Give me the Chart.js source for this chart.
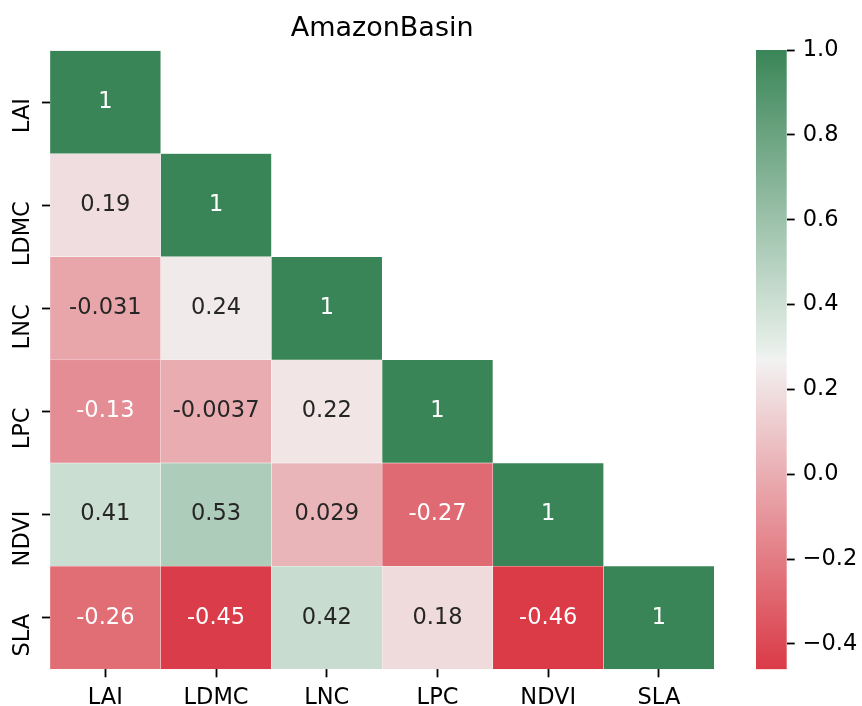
<!DOCTYPE html>
<html>
<head>
<meta charset="utf-8">
<script src="https://cdn.jsdelivr.net/npm/chart.js@4.4.1/dist/chart.umd.min.js"></script>
<style>
  html, body { margin: 0; padding: 0; background: #ffffff; }
  #wrap { position: relative; width: 862px; height: 706px; }
  #wrap canvas { position: absolute; left: 0; top: 0; }
</style>
</head>
<body>
<div id="wrap">
  <canvas id="heat" width="862" height="706"></canvas>
  <canvas id="cbar" width="862" height="706"></canvas>
</div>
<script>
const chartTitle = 'AmazonBasin';
const variables = ['LAI', 'LDMC', 'LNC', 'LPC', 'NDVI', 'SLA'];

// Lower triangle of the correlation matrix, one row per variable
const rowLAI  = [1];
const rowLDMC = [0.19, 1];
const rowLNC  = [-0.031, 0.24, 1];
const rowLPC  = [-0.13, -0.0037, 0.22, 1];
const rowNDVI = [0.41, 0.53, 0.029, -0.27, 1];
const rowSLA  = [-0.26, -0.45, 0.42, 0.18, -0.46, 1];

const colorbarTicks = [-0.4, -0.2, 0.0, 0.2, 0.4, 0.6, 0.8, 1.0];

const rows = [rowLAI, rowLDMC, rowLNC, rowLPC, rowNDVI, rowSLA];
const vmin = Math.min(...rows.flat());
const vmax = 1;

// ---- HUSL (HSLuv) to sRGB, used to build the red/green diverging colormap ----
const M = [
  [3.240969941904521, -1.537383177570093, -0.498610760293],
  [-0.96924363628087, 1.87596750150772, 0.041555057407175],
  [0.055630079696993, -0.20397695888897, 1.056971514242878]
];
const refU = 0.19783000664283, refV = 0.46831999493879;
const kappa = 903.2962962, epsilon = 0.0088564516;

function getBounds(L) {
  const out = [];
  const sub1 = Math.pow(L + 16, 3) / 1560896;
  const sub2 = sub1 > epsilon ? sub1 : L / kappa;
  for (let c = 0; c < 3; c++) {
    const [m1, m2, m3] = M[c];
    for (let t = 0; t < 2; t++) {
      const top1 = (284517 * m1 - 94839 * m3) * sub2;
      const top2 = (838422 * m3 + 769860 * m2 + 731718 * m1) * L * sub2 - 769860 * t * L;
      const bottom = (632260 * m3 - 126452 * m2) * sub2 + 126452 * t;
      out.push([top1 / bottom, top2 / bottom]);
    }
  }
  return out;
}
function maxChroma(L, H) {
  const hr = H / 360 * 2 * Math.PI;
  let min = Infinity;
  for (const [slope, icpt] of getBounds(L)) {
    const len = icpt / (Math.sin(hr) - slope * Math.cos(hr));
    if (len >= 0) min = Math.min(min, len);
  }
  return min;
}
function husl(H, S, L) {
  const C = maxChroma(L, H) / 100 * S;
  const hr = H / 180 * Math.PI;
  const U = Math.cos(hr) * C, V = Math.sin(hr) * C;
  const varU = U / (13 * L) + refU;
  const varV = V / (13 * L) + refV;
  const Y = L > 8 ? Math.pow((L + 16) / 116, 3) : L / kappa;
  const X = -(9 * Y * varU) / ((varU - 4) * varV - varU * varV);
  const Z = (9 * Y - 15 * varV * Y - varV * X) / (3 * varV);
  return M.map(r => {
    const c = r[0] * X + r[1] * Y + r[2] * Z;
    const v = c <= 0.0031308 ? 12.92 * c : 1.055 * Math.pow(c, 1 / 2.4) - 0.055;
    return Math.min(1, Math.max(0, v));
  });
}

// diverging palette: red (hue 10) -> light gray -> green (hue 140)
const hNeg = 10, hPos = 140, sat = 75, lig = 50;
const stops = [
  [0, husl(hNeg, sat, lig)],
  [127 / 256, husl(hNeg, 0.15 * sat, 95)],
  [128 / 256, [0.95, 0.95, 0.95]],
  [129 / 256, husl(hPos, 0.15 * sat, 95)],
  [1, husl(hPos, sat, lig)]
];
function cmapRGB(t) {
  t = Math.min(1, Math.max(0, t));
  for (let i = 1; i < stops.length; i++) {
    if (t <= stops[i][0]) {
      const [t0, c0] = stops[i - 1], [t1, c1] = stops[i];
      const f = (t - t0) / (t1 - t0);
      return c0.map((v, k) => v + (c1[k] - v) * f);
    }
  }
  return stops[stops.length - 1][1];
}
const toCss = c => 'rgb(' + c.map(v => Math.round(v * 255)).join(',') + ')';
const norm = v => (v - vmin) / (vmax - vmin);
const colorFor = v => toCss(cmapRGB(norm(v)));

function textColorFor(v) {
  const lin = cmapRGB(norm(v)).map(c => c <= 0.03928 ? c / 12.92 : Math.pow((c + 0.055) / 1.055, 2.4));
  const lum = 0.2126 * lin[0] + 0.7152 * lin[1] + 0.0722 * lin[2];
  return lum > 0.408 ? '#262626' : '#ffffff';
}
const fmt = v => String(Number(v.toPrecision(2)));

const FONT = 'DejaVu Sans';
const TICK_SIZE = 22.5;

// ---- heatmap: every cell is a floating bar spanning one row band ----
const datasets = rows.map((vals, r) => ({
  label: variables[r],
  data: variables.map((_, c) => c < vals.length ? [r, r + 1] : null),
  corr: variables.map((_, c) => c < vals.length ? vals[c] : null),
  backgroundColor: variables.map((_, c) => c < vals.length ? colorFor(vals[c]) : 'rgba(0,0,0,0)'),
  borderColor: 'rgba(255,255,255,0.4)',
  borderWidth: 0.5,
  borderSkipped: false,
  categoryPercentage: 1,
  barPercentage: 1
}));

const cellLabels = {
  id: 'cellLabels',
  afterDatasetsDraw(chart) {
    const ctx = chart.ctx;
    ctx.save();
    ctx.font = TICK_SIZE + 'px "' + FONT + '"';
    ctx.textAlign = 'center';
    ctx.textBaseline = 'middle';
    chart.data.datasets.forEach((ds, di) => {
      chart.getDatasetMeta(di).data.forEach((bar, i) => {
        const v = ds.corr[i];
        if (v === null || v === undefined) return;
        const p = bar.getProps(['x', 'y', 'base'], true);
        ctx.fillStyle = textColorFor(v);
        ctx.fillText(fmt(v), p.x, (p.y + p.base) / 2);
      });
    });
    ctx.restore();
  }
};

const tickGrid = {
  display: true,
  drawOnChartArea: false,
  drawTicks: true,
  tickLength: 8,
  tickWidth: 1.8,
  tickColor: '#000000'
};

new Chart(document.getElementById('heat'), {
  type: 'bar',
  data: { labels: variables, datasets },
  plugins: [cellLabels],
  options: {
    responsive: false,
    animation: false,
    devicePixelRatio: 1,
    events: [],
    layout: { padding: { left: 0, right: 147.7, top: 0, bottom: 0 } },
    plugins: {
      legend: { display: false },
      tooltip: { enabled: false },
      title: {
        display: true,
        text: chartTitle,
        fullSize: false,
        color: '#000000',
        font: { family: FONT, size: 27, weight: 'normal', lineHeight: 1.2 },
        padding: { top: 12.5, bottom: 5.6 }
      }
    },
    scales: {
      x: {
        type: 'category',
        offset: true,
        stacked: true,
        grid: Object.assign({ offset: false }, tickGrid),
        border: { display: false },
        ticks: {
          color: '#000000',
          font: { family: FONT, size: TICK_SIZE },
          padding: 7,
          maxRotation: 0,
          autoSkip: false
        },
        afterFit: s => { s.height = 36.7; }
      },
      y: {
        type: 'linear',
        min: 0,
        max: 6,
        reverse: true,
        stacked: false,
        grid: tickGrid,
        border: { display: false },
        afterBuildTicks: s => { s.ticks = variables.map((_, i) => ({ value: i + 0.5 })); },
        ticks: {
          callback: v => variables[Math.floor(v)],
          color: '#000000',
          font: { family: FONT, size: TICK_SIZE },
          minRotation: 90,
          maxRotation: 90,
          crossAlign: 'near',
          padding: 18.5,
          labelOffset: -4
        },
        afterFit: s => { s.width = 50; }
      }
    }
  }
});

// ---- colorbar: a single floating bar from vmin to vmax filled with the colormap ----
new Chart(document.getElementById('cbar'), {
  type: 'bar',
  data: {
    labels: [''],
    datasets: [{
      data: [[vmin, vmax]],
      categoryPercentage: 1,
      barPercentage: 1,
      borderWidth: 0,
      backgroundColor: ctx => {
        const chart = ctx.chart;
        if (!chart.chartArea) return 'rgba(0,0,0,0)';
        const y = chart.scales.y;
        const g = chart.ctx.createLinearGradient(0, y.getPixelForValue(vmin), 0, y.getPixelForValue(vmax));
        for (let i = 0; i <= 64; i++) g.addColorStop(i / 64, toCss(cmapRGB(i / 64)));
        return g;
      }
    }]
  },
  options: {
    responsive: false,
    animation: false,
    devicePixelRatio: 1,
    events: [],
    layout: { padding: { left: 756, right: 0, top: 50, bottom: 36.7 } },
    plugins: { legend: { display: false }, tooltip: { enabled: false }, title: { display: false } },
    scales: {
      x: { display: false, offset: true },
      y: {
        position: 'right',
        min: vmin,
        max: vmax,
        grid: tickGrid,
        border: { display: false },
        afterBuildTicks: s => { s.ticks = colorbarTicks.map(v => ({ value: v })); },
        ticks: {
          callback: v => (v < 0 ? '\u2212' : '') + Math.abs(v).toFixed(1),
          color: '#000000',
          font: { family: FONT, size: TICK_SIZE },
          padding: 8
        },
        afterFit: s => { s.width = 75.3; }
      }
    }
  }
});
</script>
</body>
</html>
